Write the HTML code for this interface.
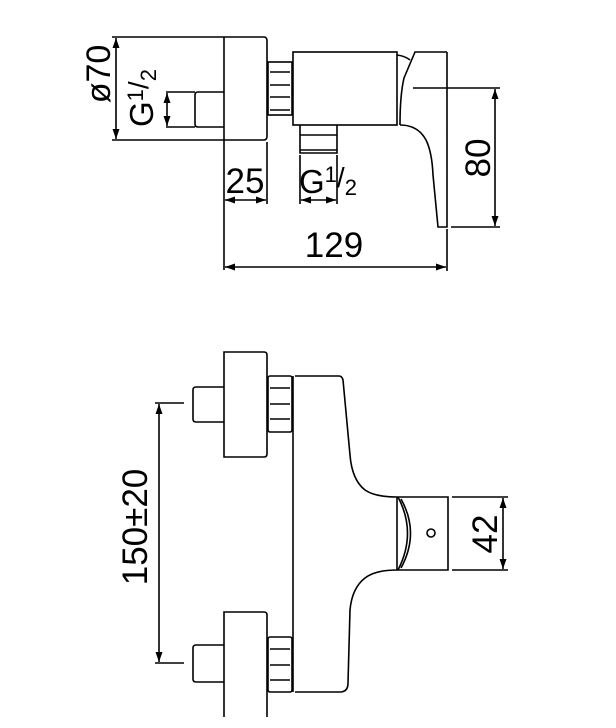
<!DOCTYPE html>
<html><head><meta charset="utf-8"><style>
html,body{margin:0;padding:0;background:#fff}
svg{display:block}
text{font-family:"Liberation Sans",sans-serif;fill:#000}
</style></head><body>
<svg width="616" height="728" viewBox="0 0 616 728" xmlns="http://www.w3.org/2000/svg">
<defs>
<marker id="a" viewBox="0 0 10 10" refX="10" refY="5" markerWidth="10" markerHeight="10" orient="auto-start-reverse" markerUnits="userSpaceOnUse"><path d="M0,1.5 L10,5 L0,8.5 Z" fill="#000"/></marker>
</defs>
<g fill="none" stroke="#000" stroke-width="1.6">
<!-- TOP VIEW -->
<path d="M112,37 H264 Q267,37 267,41 V136 Q267,140 264,140 H112"/>
<line x1="224" y1="37" x2="224" y2="270"/>
<path d="M166,92 H195 M166,127 H195"/>
<path d="M224,92 H198 Q195,92 195,95 V124 Q195,127 198,127 H224"/>
<line x1="116" y1="38" x2="116" y2="139" marker-start="url(#a)" marker-end="url(#a)"/>
<line x1="167" y1="93" x2="167" y2="126" marker-start="url(#a)" marker-end="url(#a)"/>
<rect x="268" y="62" width="24" height="53"/>
<path d="M270,72 H290 M270,85 H290 M270,97 H290 M270,110 H290"/>
<rect x="293" y="52" width="104" height="73"/>
<path d="M300,125 V153 H337 V125 M300,135 H337 M300,150 H337"/>
<path d="M397,55 Q405,56 410,60"/>
<path d="M447,52 H415 L404,78 Q400,95 400,125"/>
<path d="M400,125 Q418,125 426,140 Q432,152 433,175 L438,227 H447 V52"/>
<path d="M413,88 H500 M451,227 H500"/>
<line x1="495" y1="89" x2="495" y2="226" marker-start="url(#a)" marker-end="url(#a)"/>
<line x1="267" y1="142" x2="267" y2="204"/>
<line x1="225" y1="200" x2="266" y2="200" marker-start="url(#a)" marker-end="url(#a)"/>
<path d="M300,155 V204 M337,155 V204"/>
<line x1="301" y1="200" x2="336" y2="200" marker-start="url(#a)" marker-end="url(#a)"/>
<line x1="447" y1="229" x2="447" y2="271"/>
<line x1="225" y1="267" x2="446" y2="267" marker-start="url(#a)" marker-end="url(#a)"/>

<!-- BOTTOM VIEW -->
<path d="M224,717 V612 H264 Q267,612 267,615 V717"/>
<path d="M224,352 H264 Q267,352 267,355 V454 Q267,457 264,457 H224 Z"/>
<path d="M224,387 H196 Q193,387 193,390 V419 Q193,422 196,422 H224"/>
<path d="M224,645 H196 Q193,645 193,648 V679 Q193,682 196,682 H224"/>
<rect x="268" y="376" width="24" height="56" rx="2"/>
<path d="M270,388 H290 M270,404 H290 M270,419 H290"/>
<rect x="268" y="637" width="24" height="55" rx="2"/>
<path d="M270,649 H290 M270,665 H290 M270,680 H290"/>
<line x1="293" y1="376" x2="293" y2="692"/>
<path d="M295,376 H339 Q342,376 343,380 L350,455 Q352,480 365,490 Q375,497 397,497 H448 V570 H397 Q375,570 365,578 Q352,588 350,610 L348,683 Q348,692 340,692 H295"/>
<path d="M397,497 V570"/>
<path d="M401,499 Q420,533 401,568"/>
<path d="M398,497 Q417,533 398,570"/>
<circle cx="431" cy="533" r="4"/>
<path d="M452,497 H508 M452,570 H508"/>
<line x1="503" y1="498" x2="503" y2="569" marker-start="url(#a)" marker-end="url(#a)"/>
<path d="M155,403 H184 M155,663 H184"/>
<line x1="159" y1="404" x2="159" y2="662" marker-start="url(#a)" marker-end="url(#a)"/>
</g>
<text transform="translate(110,74) rotate(-90)" font-size="34" text-anchor="middle">ø70</text>
<text transform="translate(153,127) rotate(-90)" font-size="33">G<tspan font-size="22" dy="-10">1</tspan><tspan font-size="28" dy="5">/</tspan><tspan font-size="22" dy="8">2</tspan></text>
<text x="245" y="193" font-size="35" text-anchor="middle">25</text>
<text x="299" y="193" font-size="33">G<tspan font-size="22" dy="-11">1</tspan><tspan font-size="28" dy="5">/</tspan><tspan font-size="22" dy="8">2</tspan></text>
<text x="334" y="257" font-size="35" text-anchor="middle">129</text>
<text transform="translate(490,158) rotate(-90)" font-size="35" text-anchor="middle">80</text>
<text transform="translate(147,527) rotate(-90)" font-size="35" text-anchor="middle">150±20</text>
<text transform="translate(497,534) rotate(-90)" font-size="35" text-anchor="middle">42</text>
</svg>
</body></html>
